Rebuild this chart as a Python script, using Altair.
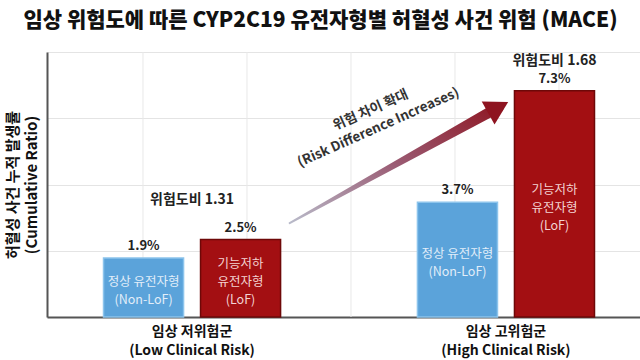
import altair as alt
import pandas as pd

# ---------------- data ----------------
title_text = "임상 위험도에 따른 CYP2C19 유전자형별 허혈성 사건 위험 (MACE)"
groups_ko = ["임상 저위험군", "임상 고위험군"]
groups_en = ["(Low Clinical Risk)", "(High Clinical Risk)"]
genotypes = ["Non-LoF", "LoF"]
genotype_labels = ["정상 유전자형\n(Non-LoF)", "기능저하\n유전자형\n(LoF)"]
rates_nonlof = [1.9, 3.7]
rates_lof = [2.5, 7.3]
risk_ratios = ["위험도비 1.31", "위험도비 1.68"]
y_title = ["허혈성 사건 누적 발생률", "(Cumulative Ratio)"]
arrow_label = "위험 차이 확대\n(Risk Difference Increases)"
# annotation arrow (helper scale units): tail -> head, with shaft widths
arrow_u = [1.41, 3.415]
arrow_y = [3.03, 6.76]
arrow_w = [2, 11]
arrow_text_u = [2.19]
arrow_text_y = [6.67]
vgrid = [0, 1, 2, 3, 4]

# ---------------- tables ----------------
groups = [k + "\n" + e for k, e in zip(groups_ko, groups_en)]
rows = []
for i, g in enumerate(groups):
    for j, gt in enumerate(genotypes):
        r = (rates_nonlof, rates_lof)[j][i]
        rows.append(dict(group=g, genotype=gt, rate=r, pct=f"{r}%",
                         inner=genotype_labels[j], mid=r / 2))
df = pd.DataFrame(rows)
df_ratio = pd.DataFrame(dict(group=groups, rate=rates_lof, ratio=risk_ratios,
                             genotype=["LoF", "LoF"]))
df_arrow = pd.DataFrame(dict(u=arrow_u, y=arrow_y, w=arrow_w))
df_head = df_arrow.iloc[[1]]
df_atext = pd.DataFrame(dict(u=arrow_text_u, y=arrow_text_y))
df_grid = pd.DataFrame(dict(g=vgrid))

FONT = "Noto Sans CJK KR"
YMAX = 8.55
BLUE = "#5BA3DA"
RED = "#A30F12"

yscale = alt.Scale(domain=[0, YMAX], nice=False, zero=True)
YAX = alt.Axis(values=[0, YMAX / 4, YMAX / 2, 3 * YMAX / 4, YMAX],
               labels=False, ticks=False, grid=True, gridColor="#e4e4e4",
               gridWidth=1, domainColor="#555", domainWidth=2,
               title=y_title, titleFont=FONT, titleFontSize=15,
               titleFontWeight="bold", titleColor="#111",
               titleLineHeight=19, titlePadding=8)
Y = lambda f: alt.Y(f + ":Q", scale=yscale, axis=YAX, title=y_title)

xband = alt.Scale(domain=groups, paddingInner=0.436, paddingOuter=0.1625, align=0.554)
xoff = alt.Scale(domain=genotypes, paddingInner=0.175, paddingOuter=0)
hscale = alt.Scale(domain=[-0.923, 4.779], nice=False, zero=False)

X = alt.X("group:N", scale=xband, sort=groups, title=None,
          axis=alt.Axis(labelExpr="split(datum.label, '\\n')", labelAngle=0,
                        labelFont=FONT, labelFontSize=14, labelFontWeight="bold",
                        labelColor="#111", labelLineHeight=19, labelPadding=7,
                        ticks=False, grid=False, domainColor="#555", domainWidth=2))
XO = alt.XOffset("genotype:N", scale=xoff)

bars = alt.Chart(df).mark_bar(strokeWidth=1.5).encode(
    x=X, xOffset=XO, y=Y("rate"),
    color=alt.Color("genotype:N", scale=alt.Scale(domain=genotypes, range=[BLUE, RED]),
                    legend=None),
    stroke=alt.condition("datum.genotype == 'LoF'", alt.value("#6e0808"), alt.value("#8cc4ec")),
)

pct = alt.Chart(df).mark_text(font=FONT, fontSize=13, fontWeight="bold", color="#222",
                              baseline="middle", dy=-12).encode(
    x=X, xOffset=XO, y=Y("rate"), text="pct:N")

inner_blue = alt.Chart(df).transform_filter("datum.genotype == 'Non-LoF'").mark_text(
    font=FONT, fontSize=12.5, lineHeight=18, lineBreak="\n", baseline="middle",
    color="#e2eef9", dy=-6).encode(
    x=X, xOffset=XO, y=Y("mid"), text="inner:N")
inner_red = alt.Chart(df).transform_filter("datum.genotype == 'LoF'").mark_text(
    font=FONT, fontSize=12.5, lineHeight=18, lineBreak="\n", baseline="middle",
    color="#f3d3d3", dy=-14).encode(
    x=X, xOffset=XO, y=Y("mid"), text="inner:N")

ratio_low = alt.Chart(df_ratio.iloc[[0]]).mark_text(
    font=FONT, fontSize=14, fontWeight="bold", color="#222", baseline="middle", dy=-40).encode(
    x=X, y=Y("rate"), text="ratio:N")
ratio_high = alt.Chart(df_ratio.iloc[[1]]).mark_text(
    font=FONT, fontSize=14, fontWeight="bold", color="#222", baseline="middle", dy=-30).encode(
    x=X, xOffset=XO, y=Y("rate"), text="ratio:N")

bar_group = alt.layer(bars, pct, inner_blue, inner_red, ratio_low, ratio_high)

HX = lambda f: alt.X(f + ":Q", scale=hscale, axis=None)

grid = alt.Chart(df_grid).mark_rule(color="#e8e8e8", strokeWidth=1).encode(x=HX("g"))

grad = alt.LinearGradient(gradient="linear", x1=0, y1=1, x2=1, y2=0, stops=[
    alt.GradientStop(color="#b9bccb", offset=0),
    alt.GradientStop(color="#9a5a72", offset=0.5),
    alt.GradientStop(color="#8e1420", offset=1)])
shaft = alt.Chart(df_arrow).mark_trail(color=grad).encode(
    x=HX("u"), y=Y("y"),
    size=alt.Size("w:Q", scale=None, legend=None))
head = alt.Chart(df_head).mark_point(shape="triangle-up", filled=True, size=700,
                                     angle=61, color="#8e1420", opacity=1).encode(
    x=HX("u"), y=Y("y"))
atext = alt.Chart(df_atext).mark_text(text=arrow_label, lineBreak="\n", font=FONT,
                                      fontSize=13.5, fontWeight="bold", color="#333",
                                      angle=336, lineHeight=19, align="center",
                                      baseline="middle").encode(
    x=HX("u"), y=Y("y"))

helper_group = alt.layer(grid, shaft, head, atext)

chart = alt.layer(helper_group, bar_group).resolve_scale(x="independent").properties(
    width=593, height=265,
    autosize=alt.AutoSizeParams(type="none"),
    padding={"left": 47, "top": 52, "right": 0, "bottom": 43},
    background="white",
    title=alt.TitleParams(text=title_text, font=FONT, fontSize=21, fontWeight=900,
                          color="#111", anchor="middle", dx=-23, offset=21),
).configure_view(stroke=None)

chart.save("out.html", embed_options={"renderer": "svg", "actions": False})
